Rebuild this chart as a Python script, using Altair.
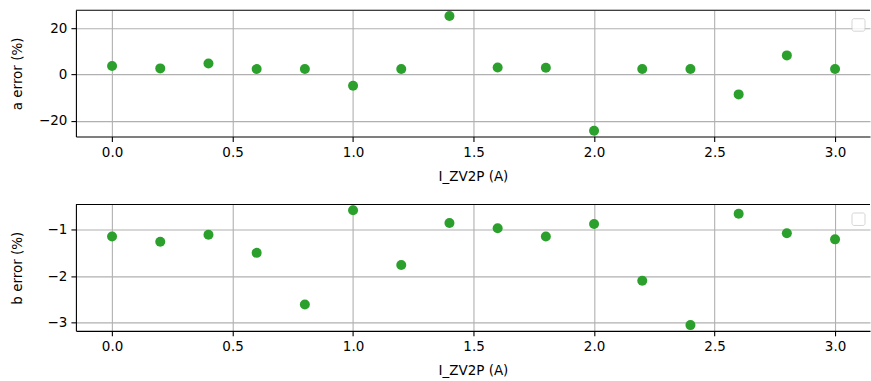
import altair as alt
import pandas as pd

# Coil current setpoints (A)
currents = [0.0, 0.2, 0.4, 0.6, 0.8, 1.0, 1.2, 1.4, 1.6, 1.8, 2.0, 2.2, 2.4, 2.6, 2.8, 3.0]
# Fit coefficient errors (%)
a_error = [3.6, 2.6, 4.7, 2.3, 2.3, -4.9, 2.3, 25.2, 3.0, 2.9, -24.3, 2.3, 2.3, -8.6, 8.2, 2.3]
b_error = [-1.15, -1.26, -1.11, -1.50, -2.61, -0.585, -1.76, -0.86, -0.97, -1.15,
           -0.88, -2.10, -3.05, -0.66, -1.08, -1.21]

a_ticks = [-20, 0, 20]
b_ticks = [-3, -2, -1]
x_ticks = [0.0, 0.5, 1.0, 1.5, 2.0, 2.5, 3.0]

GREEN = "#2ca02c"
FONT = "DejaVu Sans"
W, H = 795, 126.5

# x range: 0.15 margin on the left; the right end runs just past the page edge
X_DOMAIN = [min(currents) - 0.15, max(currents) + 0.145]


def padded(values, frac=0.05):
    lo, hi = min(values), max(values)
    m = (hi - lo) * frac
    return [lo - m, hi + m]


def panel(col, label, ticks):
    df = pd.DataFrame({"I": currents, col: a_error if col == "a" else b_error})
    pts = alt.Chart(df).mark_circle(size=100, color=GREEN, opacity=1).encode(
        x=alt.X("I:Q",
                scale=alt.Scale(domain=X_DOMAIN, nice=False, zero=False),
                axis=alt.Axis(values=x_ticks, format=".1f", title="I_ZV2P (A)")),
        y=alt.Y(f"{col}:Q",
                scale=alt.Scale(domain=padded(df[col].tolist()), nice=False, zero=False),
                axis=alt.Axis(values=ticks, format="d", title=label)),
    )
    # top spine of the axes frame
    top_spine = alt.Chart(pd.DataFrame({"k": [0]})).mark_rule(
        color="black", strokeWidth=1.1
    ).encode(x=alt.value(0), x2=alt.value(W), y=alt.value(0))
    # empty legend frame in the upper right corner
    legend_box = alt.Chart(pd.DataFrame({"k": [0]})).mark_rect(
        fill="white", stroke="#cccccc", strokeWidth=1, cornerRadius=2, opacity=0.8
    ).encode(x=alt.value(777), x2=alt.value(790), y=alt.value(8.5), y2=alt.value(21))
    return alt.layer(pts, top_spine, legend_box).properties(width=W, height=H)


top = panel("a", "a error (%)", a_ticks)
bottom = panel("b", "b error (%)", b_ticks)

chart = alt.vconcat(top, bottom, spacing=67.5, bounds="flush").properties(
    padding={"left": 11, "top": 9, "right": 0, "bottom": 4},
    background="white",
).configure_view(
    strokeWidth=0
).configure_axis(
    labelFont=FONT, titleFont=FONT, labelFontSize=13.5, titleFontSize=13.5,
    titleFontWeight="normal", labelColor="black", titleColor="black",
    grid=True, gridColor="#b0b0b0", gridWidth=1.1,
    domain=True, domainColor="black", domainWidth=1.1,
    tickColor="black", tickSize=5, tickWidth=1.1,
    labelPadding=4, labelFlush=False, labelOverlap=False,
).configure_axisX(
    titlePadding=10
).configure_axisY(
    titleX=-58, titleBaseline="middle"
)

chart.save("out.html", embed_options={"renderer": "svg", "actions": False})
